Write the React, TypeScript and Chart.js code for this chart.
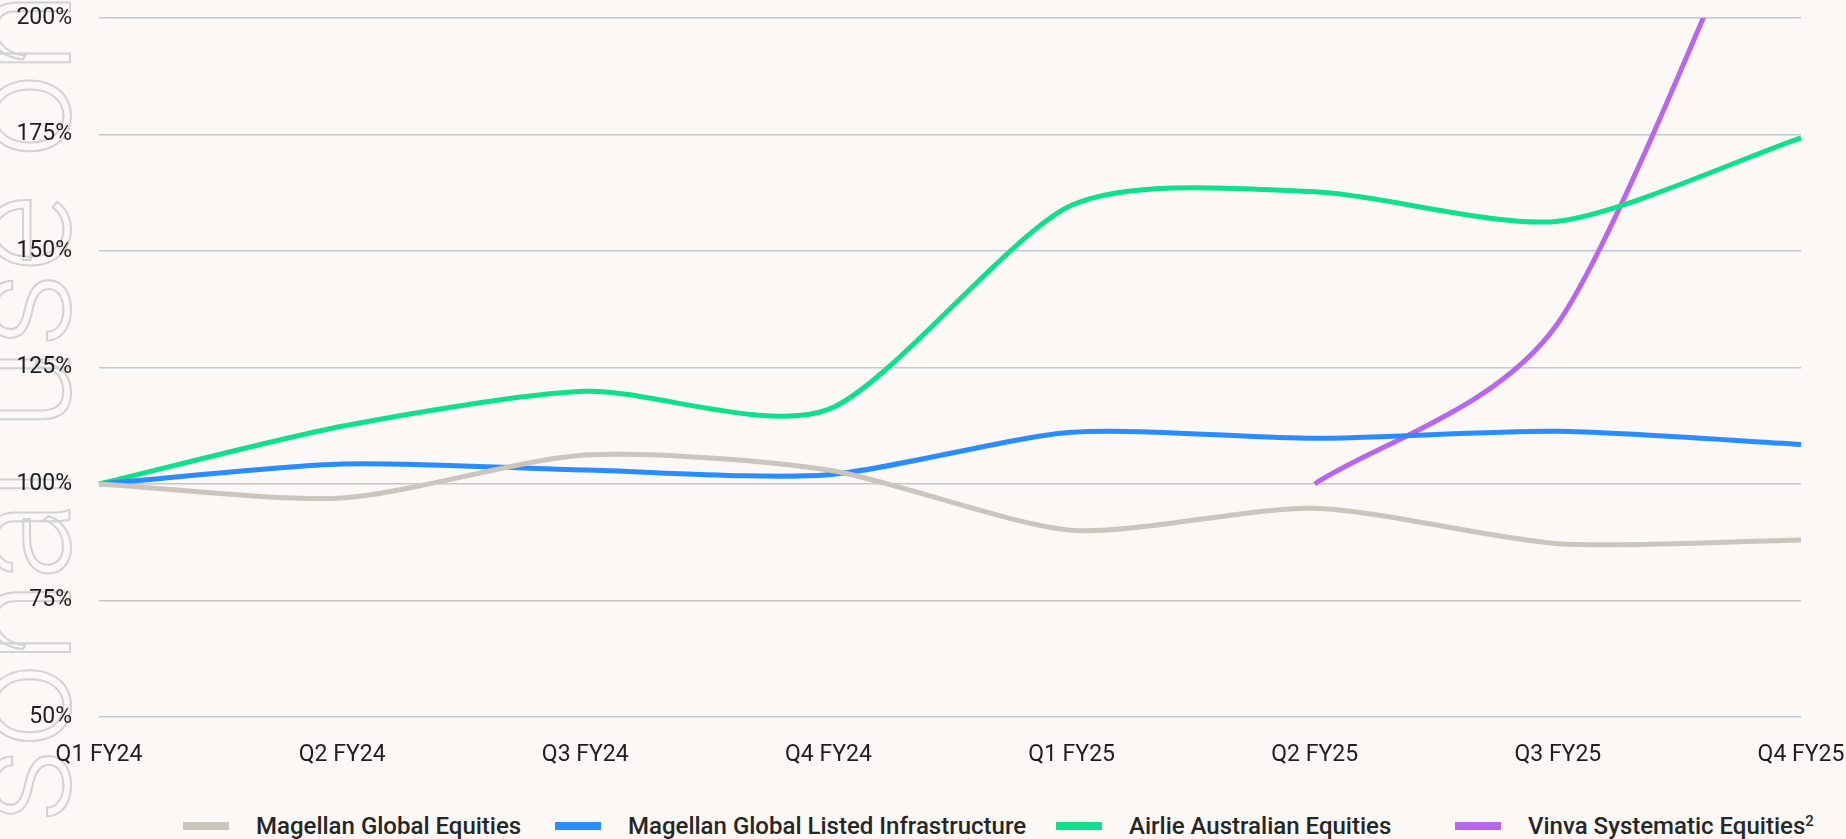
import React, { useEffect, useRef } from "react";
import { Chart, registerables } from "chart.js";

Chart.register(...registerables);

const categories = ["Q1 FY24", "Q2 FY24", "Q3 FY24", "Q4 FY24", "Q1 FY25", "Q2 FY25", "Q3 FY25", "Q4 FY25"];
const seriesNames = [
  "Magellan Global Equities",
  "Magellan Global Listed Infrastructure",
  "Airlie Australian Equities",
  "Vinva Systematic Equities",
];
const magellanGlobalEquities = [100, 97.0, 106.2, 103.0, 90.1, 94.8, 87.2, 88.0];
const magellanInfrastructure = [100, 104.3, 103.0, 102.0, 111.1, 109.8, 111.3, 108.5];
const airlieAustralian = [100, 112.4, 119.9, 116.0, 159.8, 162.7, 156.4, 174.3];
const vinvaSystematic = [null, null, null, null, null, 100, 134.5, 249];
const yMin = 50;
const yMax = 200;
const yStep = 25;

const colors = ["#CCC5BE", "#2B8CFF", "#0FE08C", "#B966EE"];
const FONT = "Roboto, 'Liberation Sans', Arial, sans-serif";
const TENSION = 0.25;

// Uniform (non distance-weighted) cardinal spline control points.
const uniformSpline = {
  id: "uniformSpline",
  beforeDatasetDraw(chart: any, args: any) {
    const meta = args.meta;
    const line = meta.dataset;
    if (!line) return;
    line.updateControlPoints(chart.chartArea, meta.iScale ? meta.iScale.axis : "x");
    const pts = meta.data;
    const n = pts.length;
    for (let i = 0; i < n; i++) {
      const p = pts[i];
      if (p.skip) continue;
      const hasPrev = i > 0 && !pts[i - 1].skip;
      const hasNext = i < n - 1 && !pts[i + 1].skip;
      const prev = hasPrev ? pts[i - 1] : p;
      const next = hasNext ? pts[i + 1] : p;
      let fa = TENSION / 2;
      let fb = TENSION / 2;
      if (!hasPrev && hasNext) {
        fa = 0;
        fb = TENSION;
      } else if (hasPrev && !hasNext) {
        fa = TENSION;
        fb = 0;
      } else if (!hasPrev && !hasNext) {
        fa = 0;
        fb = 0;
      }
      const dx = next.x - prev.x;
      const dy = next.y - prev.y;
      p.cp1x = p.x - fa * dx;
      p.cp1y = p.y - fa * dy;
      p.cp2x = p.x + fb * dx;
      p.cp2y = p.y + fb * dy;
    }
    line._path = undefined;
  },
};

export default function App() {
  const canvasRef = useRef<HTMLCanvasElement | null>(null);

  useEffect(() => {
    document.body.style.margin = "0";
    document.body.style.background = "#FBF8F5";
    const canvas = canvasRef.current;
    if (!canvas) return;
    const data = [magellanGlobalEquities, magellanInfrastructure, airlieAustralian, vinvaSystematic];
    const chart = new Chart(canvas, {
      type: "line",
      data: {
        labels: categories,
        datasets: data.map((d, i) => ({
          label: seriesNames[i],
          data: d,
          borderColor: colors[i],
          backgroundColor: colors[i],
          borderWidth: 5,
          pointRadius: 0,
          pointHoverRadius: 0,
          tension: TENSION,
          capBezierPoints: false,
          fill: false,
          spanGaps: false,
        })),
      },
      options: {
        animation: false,
        responsive: false,
        maintainAspectRatio: false,
        layout: { padding: { top: 18, right: 45, left: 0, bottom: 0 } },
        plugins: {
          legend: { display: false },
          tooltip: { enabled: false },
        },
        scales: {
          x: {
            grid: { display: false, drawTicks: false },
            border: { display: false },
            ticks: {
              padding: 24,
              color: "#1E1E1E",
              font: { family: FONT, size: 23, weight: "normal" as any },
              maxRotation: 0,
              autoSkip: false,
            },
            afterFit: (s: any) => {
              s.height = 73;
              s.paddingLeft = 0;
              s.paddingRight = 0;
            },
          },
          y: {
            min: yMin,
            max: yMax,
            grid: { color: "#C3C7CF", lineWidth: 1.5, drawTicks: false },
            border: { display: false },
            ticks: {
              stepSize: yStep,
              padding: 27,
              color: "#1E1E1E",
              font: { family: FONT, size: 23, weight: "normal" as any },
              callback: (v: any) => `${v}%`,
            },
            afterFit: (s: any) => {
              s.width = 99;
              s.paddingTop = 0;
              s.paddingBottom = 0;
            },
          },
        },
      },
      plugins: [uniformSpline],
    });
    return () => chart.destroy();
  }, []);

  const legendLefts = [183, 555, 1056, 1455];

  return (
    <div
      style={{
        position: "absolute",
        left: 0,
        top: 0,
        width: 1846,
        height: 839,
        overflow: "hidden",
        background: "#FBF8F5",
        fontFamily: FONT,
      }}
    >
      <span
        style={{
          position: "absolute",
          left: -56,
          top: 1289,
          transform: "rotate(-90deg)",
          transformOrigin: "0 0",
          whiteSpace: "nowrap",
          fontSize: 150,
          lineHeight: 1,
          fontWeight: 300,
          color: "transparent",
          WebkitTextStroke: "2px #D3D3D3",
          fontFamily: FONT,
        }}
      >
        For personal use only
      </span>
      <canvas
        ref={canvasRef}
        width={1846}
        height={790}
        style={{ position: "absolute", left: 0, top: 0, display: "block", width: 1846, height: 790 }}
      />
      {seriesNames.map((name, i) => (
        <div
          key={name}
          style={{
            position: "absolute",
            left: legendLefts[i],
            top: 810,
            height: 32,
            display: "flex",
            alignItems: "center",
            whiteSpace: "nowrap",
          }}
        >
          <span style={{ display: "inline-block", width: 46, height: 8, background: colors[i], marginRight: 27 }} />
          <span style={{ fontSize: 24, fontWeight: 500, color: "#262626" }}>
            {name}
            {i === 3 ? <sup style={{ fontSize: 15, verticalAlign: "8px", lineHeight: 0 }}>2</sup> : null}
          </span>
        </div>
      ))}
    </div>
  );
}
